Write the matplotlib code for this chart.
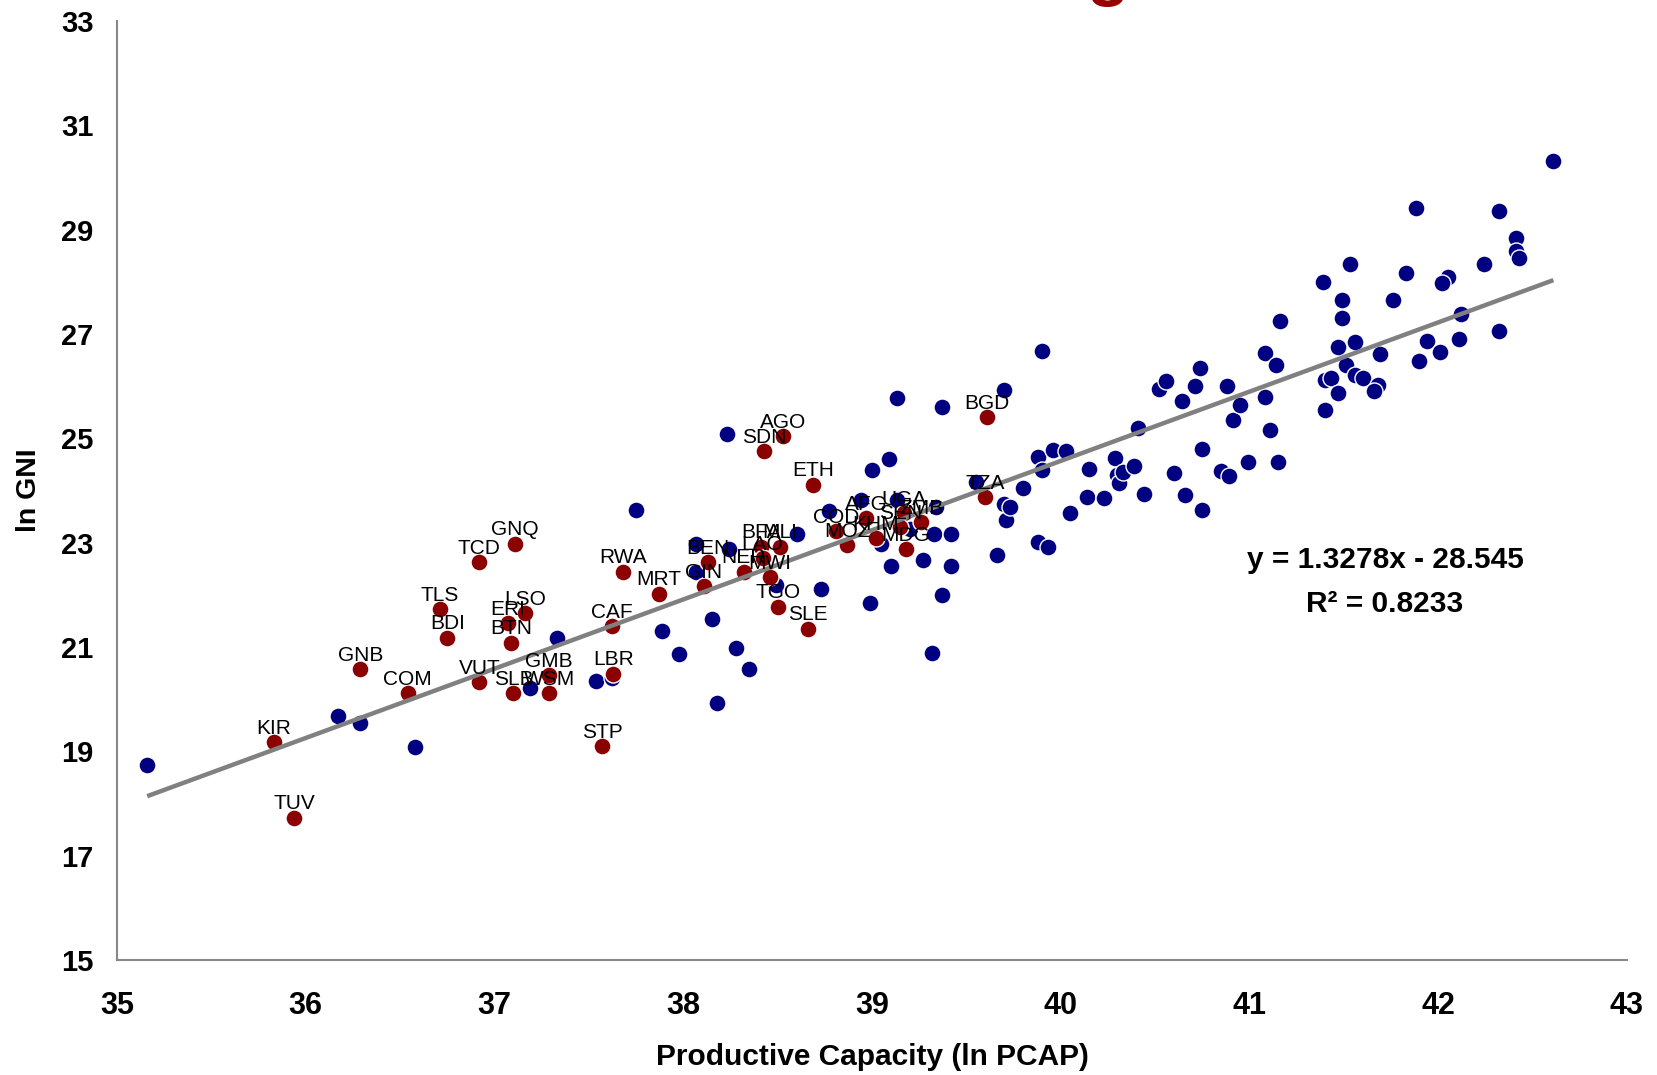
import matplotlib
matplotlib.use("Agg")
import matplotlib.pyplot as plt
import numpy as np

plt.rcParams['font.family'] = ['Liberation Sans', 'DejaVu Sans']

# Least developed countries (labelled, dark red)
ldc_codes = ['KIR', 'TUV', 'GNB', 'COM', 'BDI', 'TLS', 'TCD', 'GNQ', 'VUT', 'ERI',
             'LSO', 'BTN', 'SLB', 'GMB', 'WSM', 'STP', 'CAF', 'LBR', 'RWA', 'MRT',
             'GIN', 'BEN', 'NER', 'BFA', 'MLI', 'LAO', 'MWI', 'TGO', 'SLE', 'ETH',
             'AGO', 'SDN', 'COD', 'MOZ', 'KHM', 'AFG', 'UGA', 'SEN', 'ZMB', 'MDG',
             'TZA', 'BGD']
ldc_pcap = [35.83, 35.94, 36.29, 36.54, 36.75, 36.71, 36.92, 37.11, 36.92, 37.07,
            37.16, 37.09, 37.10, 37.29, 37.29, 37.57, 37.62, 37.63, 37.68, 37.87,
            38.11, 38.13, 38.32, 38.41, 38.51, 38.42, 38.46, 38.50, 38.66, 38.69,
            38.53, 38.43, 38.81, 38.87, 39.02, 38.97, 39.17, 39.15, 39.26, 39.18,
            39.60, 39.61]
ldc_gni = [19.18, 17.73, 20.57, 20.11, 21.18, 21.72, 22.63, 22.98, 20.33, 21.46,
           21.65, 21.08, 20.12, 20.46, 20.12, 19.10, 21.40, 20.49, 22.44, 22.02,
           22.17, 22.63, 22.44, 22.92, 22.92, 22.70, 22.34, 21.77, 21.35, 24.11,
           25.04, 24.75, 23.22, 22.95, 23.08, 23.47, 23.56, 23.30, 23.39, 22.87,
           23.87, 25.41]

# Other economies (dark blue)
other_pcap = [35.16, 36.17, 36.29, 36.58, 37.19, 37.33, 37.54, 37.62, 37.75, 37.89,
              37.98, 38.15, 38.28, 38.35, 38.18, 38.07, 38.07, 38.24, 38.23, 38.60,
              38.49, 38.73, 38.77, 38.94, 39.00, 39.09, 39.13, 39.37, 39.70, 39.13,
              39.34, 39.33, 39.42, 39.27, 39.42, 39.10, 38.99, 39.37, 39.32, 39.05,
              39.55, 39.70, 39.71, 39.66, 39.90, 39.88, 39.96, 40.03, 39.90, 40.15,
              39.80, 39.73, 40.05, 39.88, 39.93, 40.14, 40.29, 40.30, 40.31, 40.33,
              40.39, 40.23, 40.44, 40.41, 40.60, 40.66, 40.75, 40.75, 40.85, 40.89,
              40.99, 41.15, 41.11, 41.08, 40.91, 40.95, 40.88, 40.71, 40.64, 40.74,
              40.52, 40.56, 41.08, 41.14, 41.16, 41.40, 41.43, 41.47, 41.40, 41.47,
              41.51, 42.61, 41.88, 42.32, 42.41, 42.41, 42.43, 42.24, 42.05, 42.02,
              41.83, 41.53, 41.39, 41.49, 41.49, 41.76, 42.12, 42.32, 42.11, 41.94,
              42.01, 41.90, 41.56, 41.69, 41.56, 41.60, 41.68, 41.66, 39.20]
other_gni = [18.73, 19.67, 19.55, 19.09, 20.22, 21.18, 20.35, 20.40, 23.62, 21.31,
             20.87, 21.53, 20.99, 20.57, 19.93, 22.98, 22.44, 22.87, 25.08, 23.17,
             22.18, 22.12, 23.61, 23.81, 24.39, 24.60, 25.78, 25.60, 25.92, 23.81,
             23.68, 23.17, 23.17, 22.66, 22.55, 22.55, 21.85, 21.99, 20.88, 22.98,
             24.16, 23.75, 23.43, 22.76, 26.67, 24.64, 24.77, 24.76, 24.39, 24.41,
             24.05, 23.68, 23.56, 23.01, 22.92, 23.88, 24.62, 24.29, 24.15, 24.36,
             24.47, 23.85, 23.94, 25.20, 24.34, 23.91, 23.62, 24.79, 24.37, 24.28,
             24.54, 24.55, 25.16, 25.80, 25.35, 25.64, 26.01, 26.01, 25.71, 26.35,
             25.94, 26.10, 26.63, 26.40, 27.25, 26.12, 26.15, 25.87, 25.54, 26.75,
             26.40, 30.32, 29.42, 29.36, 28.84, 28.60, 28.45, 28.34, 28.09, 27.97,
             28.17, 28.35, 27.99, 27.65, 27.31, 27.65, 27.38, 27.06, 26.90, 26.87,
             26.65, 26.48, 26.84, 26.61, 26.22, 26.15, 26.03, 25.91, 23.27]

# Linear trend reported on the chart
slope = 1.3278
intercept = -28.545
r_squared = 0.8233

x_ticks = list(range(35, 44))
y_ticks = list(range(15, 34, 2))

NAVY = '#000080'
DARK_RED = '#8B0000'

fig = plt.figure(figsize=(16.57, 10.75), dpi=100)
ax = fig.add_axes([117 / 1657, 1 - 960 / 1075, 1510 / 1657, 939 / 1075])

marker_area = 150
ax.scatter(other_pcap, other_gni, s=marker_area, c=NAVY, edgecolors='white',
           linewidths=1.0, zorder=3)
ax.scatter(ldc_pcap, ldc_gni, s=marker_area, c=DARK_RED, edgecolors='white',
           linewidths=1.0, zorder=4)

all_x = np.array(other_pcap + ldc_pcap)
trend_x = np.array([all_x.min(), all_x.max()])
ax.plot(trend_x, slope * trend_x + intercept, color='#808080', lw=3.2,
        solid_capstyle='butt', zorder=5)

for code, xv, yv in zip(ldc_codes, ldc_pcap, ldc_gni):
    ax.annotate(code, (xv, yv), xytext=(0, 10), textcoords='offset points',
                ha='center', va='center', fontsize=15, color='black', zorder=6)

ax.text(0.8397, 0.426, f'y = {slope}x - {abs(intercept)}', transform=ax.transAxes,
        ha='center', va='center', fontsize=21.5, fontweight='bold')
ax.text(0.8397, 0.379, f'R\u00b2 = {r_squared}', transform=ax.transAxes,
        ha='center', va='center', fontsize=21.5, fontweight='bold')

ax.set_xlim(35, 43)
ax.set_ylim(15, 33)
ax.set_xticks(x_ticks)
ax.set_yticks(y_ticks)
ax.tick_params(axis='both', length=0)
ax.tick_params(axis='x', pad=22, labelsize=22)
ax.tick_params(axis='y', pad=17, labelsize=21)
for lab in ax.get_xticklabels() + ax.get_yticklabels():
    lab.set_fontweight('bold')

for side in ('top', 'right'):
    ax.spines[side].set_visible(False)
for side in ('left', 'bottom'):
    ax.spines[side].set_color('#888888')
    ax.spines[side].set_linewidth(1.5)

ax.set_xlabel('Productive Capacity (ln PCAP)', fontsize=21.5, fontweight='bold',
              va='center')
ax.xaxis.set_label_coords(0.5, -(1057 - 960) / 939)
ax.set_ylabel('ln GNI', fontsize=20.5, fontweight='bold', va='center')
ax.yaxis.set_label_coords((28.5 - 117) / 1510, 0.5)

# Lower tail of the title line running off the top edge
fig.text(1107 / 1657, 1 + 7 / 1075, 'g', color='#990000', fontsize=50,
         fontweight='bold', ha='center', va='baseline')

fig.savefig('out.png', dpi=100)
